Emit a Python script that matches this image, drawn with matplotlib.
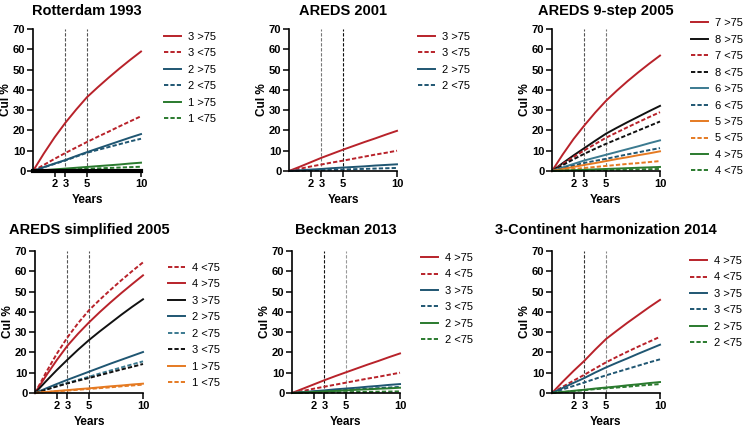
import matplotlib
matplotlib.use('Agg')
import matplotlib.pyplot as plt

plt.rcParams['font.family'] = ['Liberation Sans', 'DejaVu Sans']

# time points (years)
years = [0, 1, 2, 3, 4, 5, 6, 7, 8, 9, 10]

# Rotterdam 1993
rot_3_old = [0, 8.6, 16.6, 23.8, 30.3, 36.4, 41.3, 46.0, 50.5, 54.8, 58.9]
rot_3_young = [0, 3.0, 6.0, 8.9, 11.6, 14.3, 16.9, 19.4, 22.0, 24.5, 27.0]
rot_2_old = [0, 1.9, 3.7, 5.4, 7.4, 9.3, 11.1, 12.9, 14.7, 16.5, 18.2]
rot_2_young = [0, 1.8, 3.5, 5.2, 7.1, 9.0, 10.4, 11.8, 13.2, 14.6, 15.9]
rot_1_old = [0, 0.4, 0.8, 1.2, 1.6, 2.0, 2.4, 2.8, 3.2, 3.7, 4.1]
rot_1_young = [0, 0.2, 0.4, 0.6, 0.9, 1.1, 1.3, 1.5, 1.7, 1.9, 2.1]

# AREDS 2001
a01_3_old = [0, 2.1, 4.3, 6.5, 8.5, 10.5, 12.4, 14.3, 16.1, 18.0, 19.8]
a01_3_young = [0, 1.1, 2.2, 3.2, 4.2, 5.1, 6.1, 7.1, 8.1, 9.0, 10.0]
a01_2_old = [0, 0.35, 0.7, 1.0, 1.4, 1.7, 2.0, 2.3, 2.7, 3.0, 3.3]
a01_2_young = [0, 0.15, 0.3, 0.45, 0.6, 0.75, 0.9, 1.05, 1.2, 1.35, 1.5]

# AREDS 9-step 2005
s9_7_old = [0, 8.2, 15.8, 22.5, 28.8, 34.6, 39.6, 44.3, 48.7, 52.9, 56.9]
s9_8_old = [0, 3.9, 7.7, 11.3, 14.9, 18.4, 21.3, 24.1, 26.8, 29.5, 32.1]
s9_7_young = [0, 3.5, 6.9, 10.2, 13.3, 16.4, 19.0, 21.6, 24.1, 26.6, 29.0]
s9_8_young = [0, 2.9, 5.8, 8.5, 11.0, 13.4, 15.6, 17.8, 20.0, 22.2, 24.4]
s9_6_old = [0, 1.8, 3.5, 5.2, 6.6, 8.0, 9.4, 10.8, 12.2, 13.7, 15.1]
s9_6_young = [0, 1.3, 2.7, 4.0, 5.0, 6.0, 7.1, 8.2, 9.2, 10.3, 11.3]
s9_5_old = [0, 1.0, 2.0, 3.0, 3.9, 4.9, 5.9, 6.8, 7.8, 8.7, 9.7]
s9_5_young = [0, 0.5, 1.0, 1.5, 2.0, 2.5, 3.0, 3.5, 3.9, 4.4, 4.9]
s9_4_old = [0, 0.2, 0.4, 0.6, 0.8, 1.0, 1.2, 1.4, 1.6, 1.8, 2.0]
s9_4_young = [0, 0.1, 0.2, 0.3, 0.4, 0.5, 0.6, 0.7, 0.8, 0.9, 1.0]

# AREDS simplified 2005
simp_4_young = [0, 9.9, 19.2, 27.4, 34.5, 40.8, 46.0, 50.9, 55.6, 60.1, 64.4]
simp_4_old = [0, 8.3, 16.1, 23.3, 29.3, 34.8, 39.9, 44.7, 49.3, 53.7, 58.0]
simp_3_old = [0, 5.7, 11.2, 16.4, 21.4, 26.1, 30.4, 34.5, 38.6, 42.5, 46.2]
simp_2_old = [0, 2.2, 4.4, 6.5, 8.5, 10.5, 12.5, 14.5, 16.4, 18.3, 20.2]
simp_2_young = [0, 1.7, 3.4, 5.0, 6.5, 8.0, 9.6, 11.1, 12.6, 14.1, 15.6]
simp_3_young = [0, 1.6, 3.2, 4.7, 6.1, 7.4, 8.8, 10.2, 11.6, 12.9, 14.3]
simp_1_old = [0, 0.5, 1.0, 1.4, 1.9, 2.3, 2.8, 3.3, 3.7, 4.2, 4.6]
simp_1_young = [0, 0.4, 0.8, 1.2, 1.6, 2.0, 2.4, 2.8, 3.3, 3.7, 4.1]

# Beckman 2013
bk_4_old = [0, 2.1, 4.2, 6.3, 8.3, 10.2, 12.1, 14.0, 15.8, 17.7, 19.5]
bk_4_young = [0, 1.0, 2.1, 3.1, 4.1, 5.1, 6.1, 7.1, 8.0, 9.0, 10.0]
bk_3_old = [0, 0.45, 0.9, 1.3, 1.8, 2.2, 2.6, 3.1, 3.5, 4.0, 4.4]
bk_3_young = [0, 0.3, 0.6, 0.9, 1.2, 1.5, 1.8, 2.1, 2.4, 2.7, 3.0]
bk_2_old = [0, 0.25, 0.5, 0.8, 1.0, 1.3, 1.6, 1.8, 2.1, 2.3, 2.6]
bk_2_young = [0, 0.1, 0.2, 0.25, 0.3, 0.4, 0.5, 0.55, 0.65, 0.7, 0.8]

# 3-Continent harmonization 2014
tc_4_old = [0, 5.6, 10.9, 15.9, 21.4, 26.6, 30.7, 34.7, 38.5, 42.3, 45.9]
tc_4_young = [0, 3.1, 6.1, 9.0, 12.1, 15.1, 17.8, 20.4, 22.9, 25.3, 27.7]
tc_3_old = [0, 2.5, 5.0, 7.4, 10.1, 12.6, 14.9, 17.1, 19.4, 21.6, 23.8]
tc_3_young = [0, 1.8, 3.5, 5.2, 7.0, 8.7, 10.3, 11.9, 13.5, 15.1, 16.6]
tc_2_old = [0, 0.55, 1.1, 1.6, 2.2, 2.7, 3.2, 3.8, 4.3, 4.9, 5.4]
tc_2_young = [0, 0.45, 0.9, 1.4, 1.9, 2.3, 2.7, 3.1, 3.6, 4.0, 4.4]

x_ticks = [2, 3, 5, 10]
y_ticks = [0, 10, 20, 30, 40, 50, 60, 70]

RED = '#B8222A'
BLUE = '#1F5672'
TEAL = '#3B7A90'
GREEN = '#2A7A2E'
ORANGE = '#E57A22'
BLACK = '#111111'
DASH = (2.2, 1.1)

panels = [
    dict(title='Rotterdam 1993', pos=(33, 29, 171), leg=(1.213, 0.98), pad=10,
         vcol=('#555555', '#555555'),
         series=[('3 >75', rot_3_old, RED, False), ('3 <75', rot_3_young, RED, True),
                 ('2 >75', rot_2_old, BLUE, False), ('2 <75', rot_2_young, BLUE, True),
                 ('1 >75', rot_1_old, GREEN, False), ('1 <75', rot_1_young, GREEN, True)]),
    dict(title='AREDS 2001', pos=(289, 29, 171), leg=(1.194, 0.98), pad=10,
         vcol=('#777777', '#111111'),
         series=[('3 >75', a01_3_old, RED, False), ('3 <75', a01_3_young, RED, True),
                 ('2 >75', a01_2_old, BLUE, False), ('2 <75', a01_2_young, BLUE, True)]),
    dict(title='AREDS 9-step 2005', pos=(552, 29, 171), leg=(1.287, 1.075), pad=10,
         vcol=('#555555', '#777777'),
         series=[('7 >75', s9_7_old, RED, False), ('8 >75', s9_8_old, BLACK, False),
                 ('7 <75', s9_7_young, RED, True), ('8 <75', s9_8_young, BLACK, True),
                 ('6 >75', s9_6_old, TEAL, False), ('6 <75', s9_6_young, BLUE, True),
                 ('5 >75', s9_5_old, ORANGE, False), ('5 <75', s9_5_young, ORANGE, True),
                 ('4 >75', s9_4_old, GREEN, False), ('4 <75', s9_4_young, GREEN, True)]),
    dict(title='AREDS simplified 2005', pos=(35, 251, 393), leg=(1.231, 0.916), pad=12,
         vcol=('#555555', '#555555'),
         series=[('4 <75', simp_4_young, RED, True), ('4 >75', simp_4_old, RED, False),
                 ('3 >75', simp_3_old, BLACK, False), ('2 >75', simp_2_old, BLUE, False),
                 ('2 <75', simp_2_young, TEAL, True), ('3 <75', simp_3_young, BLACK, True),
                 ('1 >75', simp_1_old, ORANGE, False), ('1 <75', simp_1_young, ORANGE, True)]),
    dict(title='Beckman 2013', pos=(292, 251, 393), leg=(1.194, 0.986), pad=12,
         vcol=('#111111', '#999999'),
         series=[('4 >75', bk_4_old, RED, False), ('4 <75', bk_4_young, RED, True),
                 ('3 >75', bk_3_old, BLUE, False), ('3 <75', bk_3_young, BLUE, True),
                 ('2 >75', bk_2_old, GREEN, False), ('2 <75', bk_2_young, GREEN, True)]),
    dict(title='3-Continent harmonization 2014', pos=(552, 251, 393), leg=(1.278, 0.965), pad=12,
         vcol=('#333333', '#888888'),
         series=[('4 >75', tc_4_old, RED, False), ('4 <75', tc_4_young, RED, True),
                 ('3 >75', tc_3_old, BLUE, False), ('3 <75', tc_3_young, BLUE, True),
                 ('2 >75', tc_2_old, GREEN, False), ('2 <75', tc_2_young, GREEN, True)]),
]

W, H = 745, 428
fig = plt.figure(figsize=(W / 100, H / 100), dpi=100)

for i, p in enumerate(panels):
    left, top, bottom = p['pos']
    ax = fig.add_axes([left / W, 1 - bottom / H, 108 / W, (bottom - top) / H])
    for j, xv in enumerate([3, 5]):
        ax.axvline(xv, color=p['vcol'][j], lw=0.8, ls=(0, (3, 1.5)), zorder=1)
    for label, vals, col, dashed in p['series']:
        if dashed:
            ax.plot(years, vals, color=col, lw=1.4, dashes=DASH, label=label, clip_on=False)
        else:
            ax.plot(years, vals, color=col, lw=1.4, label=label, clip_on=False)
    ax.set_xlim(0, 10)
    ax.set_ylim(0, 70)
    ax.set_xticks(x_ticks)
    ax.set_yticks(y_ticks)
    for s in ['top', 'right']:
        ax.spines[s].set_visible(False)
    for s in ['left', 'bottom']:
        ax.spines[s].set_linewidth(1.2)
    if i == 0:
        ax.spines['bottom'].set_linewidth(3)
    ax.tick_params(direction='out', length=4, width=1.1, labelsize=8, pad=1.5)
    for t in ax.get_xticklabels() + ax.get_yticklabels():
        t.set_fontweight('bold')
    ax.set_xlabel('Years', fontsize=8.5, fontweight='bold', labelpad=4)
    ax.set_ylabel('Cul %', fontsize=8.5, fontweight='bold', labelpad=0.5)
    ax.set_title(p['title'], fontsize=10.5, fontweight='bold', pad=p['pad'])
    ax.legend(loc='upper left', bbox_to_anchor=p['leg'], frameon=False, fontsize=8,
              handlelength=1.5, handletextpad=0.7, labelspacing=0.58,
              borderpad=0, borderaxespad=0)

fig.savefig('out.png', dpi=100)
